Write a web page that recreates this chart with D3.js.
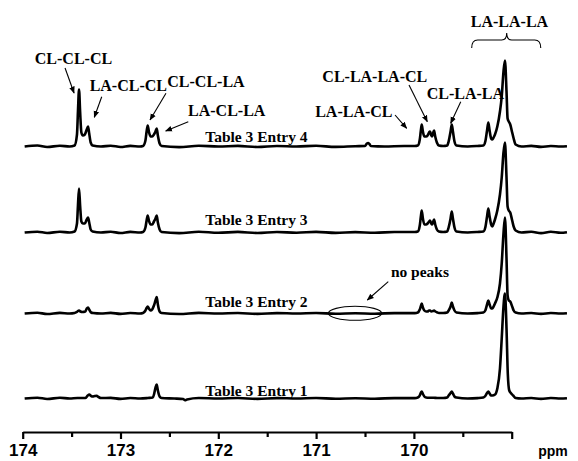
<!DOCTYPE html>
<html>
<head>
<meta charset="utf-8">
<script src="https://cdn.jsdelivr.net/npm/d3@7"></script>
<style>
  html, body { margin: 0; padding: 0; background: #fff; }
  svg { display: block; }
</style>
</head>
<body>
<script>
// ---------- DATA (ppm, intensity) ----------
const entryNames = ["Table 3 Entry 1", "Table 3 Entry 2", "Table 3 Entry 3", "Table 3 Entry 4"];
const entryOffsets = [0, 85, 166, 252];

const entry4 = [
  [173.98,0],[173.85,1],[173.75,-0.5],[173.62,0.8],[173.52,0],
  [173.47,1],[173.445,12],[173.435,35],[173.424,57],[173.413,35],[173.40,14],[173.385,11],[173.365,12],[173.345,17],[173.332,20],[173.32,13],[173.305,4],[173.285,1],
  [173.2,0],[173.1,0.8],[173.0,-0.5],[172.9,0.6],[172.8,0],
  [172.77,0.5],[172.745,6],[172.733,15],[172.722,21],[172.71,15],[172.692,10],[172.676,10],[172.658,12],[172.642,15],[172.630,18],[172.618,11],[172.60,3],[172.58,0.5],
  [172.4,-0.6],[172.2,0.7],[172.0,0],[171.8,0.6],[171.6,-0.5],[171.4,0.5],[171.2,0],[171.0,0.7],[170.8,-0.4],[170.6,0.3],
  [170.50,0.5],[170.48,3],[170.469,3.5],[170.455,2.5],[170.44,0.5],
  [170.3,0],[170.1,0.5],[169.99,0.5],
  [169.96,1],[169.94,7],[169.93,15],[169.92,22],[169.908,15],[169.893,10],[169.875,10],[169.86,11],[169.845,14],[169.835,15],[169.822,11],[169.814,10],[169.805,13],[169.794,16],[169.782,10],[169.765,4],[169.745,1],
  [169.70,0.5],[169.66,1],
  [169.645,5],[169.625,15],[169.613,22],[169.601,15],[169.585,5],[169.565,1],
  [169.45,0],[169.35,0.5],[169.29,1],
  [169.27,5],[169.252,16],[169.239,24],[169.226,16],[169.21,8],[169.198,7],[169.185,9],[169.171,12],[169.147,20],[169.120,35],[169.102,50],[169.084,75],[169.069,86],[169.053,55],[169.042,28],[169.030,25],[169.015,22],[168.995,14],[168.98,8],[168.96,2],
  [168.90,0],[168.8,0.6],[168.7,-0.4],[168.6,0.5],[168.5,0],[168.435,0.3]
];

const entry3 = [
  [173.98,0],[173.85,0.8],[173.75,-0.5],[173.62,0.7],[173.52,0],
  [173.47,1],[173.445,9],[173.435,27],[173.424,44],[173.413,27],[173.40,11],[173.385,9],[173.365,9],[173.345,13],[173.332,15],[173.32,10],[173.305,3],[173.285,1],
  [173.2,0],[173.1,0.7],[173.0,-0.5],[172.9,0.6],[172.8,0],
  [172.77,0.5],[172.745,5],[172.733,12],[172.722,17],[172.71,12],[172.692,8],[172.676,8],[172.658,11],[172.642,14],[172.630,17],[172.618,10],[172.60,3],[172.58,0.5],
  [172.4,-0.6],[172.2,0.7],[172.0,-0.3],[171.8,0.6],[171.6,-0.5],[171.4,0.5],[171.2,-0.2],[171.0,0.6],[170.8,-0.4],[170.6,0.4],[170.4,-0.3],[170.2,0.5],[169.99,0.5],
  [169.96,1],[169.94,7],[169.93,15],[169.92,22],[169.908,14],[169.893,8],[169.875,8],[169.86,9],[169.845,11],[169.835,12],[169.822,9],[169.814,8],[169.805,10],[169.794,13],[169.782,8],[169.765,3],[169.745,1],
  [169.70,0.5],[169.66,1],
  [169.645,5],[169.625,14],[169.613,21],[169.601,14],[169.585,5],[169.565,1],
  [169.45,0],[169.35,0.5],[169.29,1],
  [169.27,5],[169.252,16],[169.239,24],[169.226,16],[169.21,8],[169.198,6],[169.185,9],[169.171,13],[169.147,22],[169.120,38],[169.102,55],[169.084,80],[169.069,90],[169.053,55],[169.042,26],[169.030,22],[169.015,20],[168.995,12],[168.98,6],[168.96,2],
  [168.90,0],[168.8,0.8],[168.7,-0.6],[168.6,0.7],[168.5,-0.3],[168.435,0.3]
];

const entry2 = [
  [173.98,0],[173.85,0.7],[173.75,-0.5],[173.62,0.6],[173.52,0],
  [173.47,0.5],[173.44,2],[173.424,3],[173.41,2],[173.39,1.5],[173.36,2],[173.345,5],[173.332,6],[173.32,4],[173.30,1],[173.28,0.5],
  [173.2,0],[173.1,0.6],[173.0,-0.4],[172.9,0.5],[172.8,0],
  [172.77,0.5],[172.745,3],[172.733,5.5],[172.722,7],[172.71,5],[172.692,3],[172.676,4],[172.658,8],[172.642,13],[172.630,16.5],[172.618,9],[172.60,2],[172.58,0.5],
  [172.4,-0.5],[172.2,0.6],[172.0,0],[171.8,0.5],[171.6,-0.4],[171.4,0.4],[171.2,0],[171.0,0.5],[170.8,-0.3],[170.6,0.3],[170.4,-0.2],[170.2,0.4],[169.99,0.4],
  [169.96,1],[169.94,4],[169.93,7],[169.92,10],[169.908,6],[169.893,3],[169.875,2],[169.86,2],[169.845,3],[169.835,3],[169.822,2],[169.805,2.5],[169.794,3],[169.78,2],[169.76,1],[169.745,0.5],
  [169.70,0.5],[169.66,1],
  [169.645,3],[169.625,7],[169.613,11],[169.601,7],[169.585,3],[169.565,1],
  [169.45,0],[169.35,0.4],[169.29,1],
  [169.27,3],[169.252,9],[169.239,13],[169.226,9],[169.21,5],[169.198,5],[169.185,7],[169.171,10],[169.147,16],[169.120,30],[169.102,50],[169.084,80],[169.069,96],[169.053,55],[169.042,18],[169.030,13],[169.015,12],[168.995,7],[168.98,3],[168.96,1],
  [168.90,0],[168.8,0.5],[168.7,-0.4],[168.6,0.5],[168.5,0],[168.435,0.3]
];

const entry1 = [
  [173.98,0],[173.85,0.8],[173.75,-0.5],[173.62,0.7],[173.52,0],[173.44,0.5],
  [173.36,0.5],[173.335,3],[173.319,4],[173.30,2.5],[173.285,2],[173.262,2.5],[173.243,2.6],[173.225,1.5],[173.20,0.5],
  [173.1,0.6],[173.0,-0.4],[172.9,0.5],[172.8,0],[172.72,0.5],
  [172.67,1],[172.655,5],[172.642,11],[172.630,14],[172.618,8],[172.60,2],[172.58,0.5],
  [172.45,0],[172.36,-0.5],[172.34,-1.8],[172.32,-1],[172.2,0.5],[172.0,0],[171.8,0.5],[171.6,-0.4],[171.4,0.4],[171.2,0],[171.0,0.5],[170.8,-0.3],[170.6,0.3],[170.4,-0.2],[170.2,0.4],[169.99,0.4],
  [169.96,1],[169.94,3],[169.93,5.5],[169.92,7],[169.908,4.5],[169.893,2],[169.875,1],[169.85,0.8],[169.8,0.8],[169.76,0.5],
  [169.70,0.5],[169.66,1],
  [169.645,3],[169.625,5.5],[169.613,7],[169.601,5],[169.585,2],[169.565,1],
  [169.45,0],[169.35,0.4],[169.29,1],
  [169.27,2.5],[169.252,5.5],[169.239,7],[169.226,5],[169.21,3],[169.198,3],[169.17,4],[169.147,10],[169.120,30],[169.102,60],[169.084,92],[169.069,105],[169.053,70],[169.04,25],[169.025,8],[169.005,5],[168.985,3],[168.96,0.5],
  [168.90,0],[168.8,0.5],[168.7,-0.4],[168.6,0.5],[168.5,0],[168.435,0.3]
];

const entrySeries = [entry1, entry2, entry3, entry4];

const xTickValues = [174, 173.5, 173, 172.5, 172, 171.5, 171, 170.5, 170, 169.5, 169];
const xTickLabels = ["174", "", "173", "", "172", "", "171", "", "170", "", ""];
const axisUnit = "ppm";

// annotations on entry 4 (ppm, intensity in stacked units)
const peakLabels = ["CL-CL-CL", "LA-CL-CL", "CL-CL-LA", "LA-CL-LA", "CL-LA-LA-CL", "LA-LA-CL", "CL-LA-LA"];
const peakLabelPos = [[173.481,334.5],[172.920,307.8],[172.126,311.2],[171.914,282.5],[170.400,316.8],[170.614,281.8],[169.474,299.2]];
const peakArrowFrom = [[173.567,330.5],[173.192,301.8],[172.535,305.2],[172.307,276.8],[170.050,313.5],[170.193,283.5],[169.521,296.8]];
const peakArrowTo = [[173.475,305.5],[173.268,281.2],[172.698,278.5],[172.538,267.5],[169.863,276.8],[170.074,270.2],[169.624,275.2]];

const braceLabel = "LA-LA-LA";
const braceLabelPos = [169.023, 371.8];
const braceSpan = [169.409, 168.703, 358.5, 350.5, 169.051, 365.5]; // left, right, y, yEnd, tipX, tipY

const noPeaksLabel = "no peaks";
const noPeaksLabelPos = [169.938, 121.2];
const noPeaksArrow = [[170.262,116.8],[170.476,98.5]];
const noPeaksEllipse = [170.602, 85.2, 0.273, 7];

const entryLabelX = 171.61;
const entryLabelY = [2.8, 91.2, 173.5, 256.5];

// ---------- DRAW ----------
const W = 578, H = 461;
const svg = d3.select("body").append("svg").attr("width", W).attr("height", H)
  .style("background", "#fff");

const x = d3.scaleLinear().domain([174, 169]).range([22.7, 511.7]);
const y = d3.scaleLinear().domain([0, 352]).range([398.5, 46.5]);

svg.append("defs").append("marker")
  .attr("id", "arr").attr("viewBox", "0 0 10 10").attr("refX", 9).attr("refY", 5)
  .attr("markerWidth", 7).attr("markerHeight", 7).attr("markerUnits", "userSpaceOnUse")
  .attr("orient", "auto")
  .append("path").attr("d", "M0,1 L10,5 L0,9 Z").attr("fill", "#000");

const line = d3.line().x(d => x(d[0])).curve(d3.curveMonotoneX);

const serif = "'Liberation Serif', 'Times New Roman', serif";
const sans = "'Liberation Sans', Arial, sans-serif";

// entry labels (drawn first so trace overlays)
svg.selectAll("text.entry").data(entryNames).enter().append("text")
  .attr("class", "entry")
  .attr("x", x(entryLabelX)).attr("y", (d, i) => y(entryLabelY[i]))
  .attr("text-anchor", "middle")
  .style("font-family", serif).style("font-weight", "bold").style("font-size", "15.5px")
  .text(d => d);

entrySeries.forEach((s, i) => {
  svg.append("path")
    .attr("d", line.y(d => y(d[1] + entryOffsets[i]))(s))
    .attr("fill", "none").attr("stroke", "#000").attr("stroke-width", 2.6)
    .attr("stroke-linejoin", "round");
});

// axis
const axis = d3.axisBottom(x).tickValues(xTickValues)
  .tickFormat((d, i) => xTickLabels[i]).tickSizeOuter(0).tickSize(0);
const gAx = svg.append("g").attr("transform", "translate(0,432)").call(axis);
gAx.select(".domain").attr("stroke", "#000").attr("stroke-width", 2.2);
gAx.selectAll(".tick line").attr("y2", (d, i) => xTickLabels[i] !== "" || d === 169 ? 7 : 5)
  .attr("stroke", "#000").attr("stroke-width", 2.2);
gAx.selectAll(".tick text").attr("y", 24).attr("dy", 0)
  .style("font-family", sans).style("font-weight", "bold").style("font-size", "17px").attr("fill", "#000");

svg.append("text").attr("x", 553).attr("y", 456).attr("text-anchor", "middle")
  .style("font-family", sans).style("font-weight", "bold").style("font-size", "14px")
  .text(axisUnit);

// peak annotations
svg.selectAll("text.pk").data(peakLabels).enter().append("text")
  .attr("class", "pk")
  .attr("x", (d, i) => x(peakLabelPos[i][0])).attr("y", (d, i) => y(peakLabelPos[i][1]))
  .attr("text-anchor", "middle")
  .style("font-family", serif).style("font-weight", "bold").style("font-size", "16px")
  .text(d => d);

svg.selectAll("line.pk").data(peakLabels).enter().append("line")
  .attr("class", "pk")
  .attr("x1", (d, i) => x(peakArrowFrom[i][0])).attr("y1", (d, i) => y(peakArrowFrom[i][1]))
  .attr("x2", (d, i) => x(peakArrowTo[i][0])).attr("y2", (d, i) => y(peakArrowTo[i][1]))
  .attr("stroke", "#000").attr("stroke-width", 1.1).attr("marker-end", "url(#arr)");

// brace
const bl = x(braceSpan[0]), br = x(braceSpan[1]), by = y(braceSpan[2]), bye = y(braceSpan[3]);
const tx = x(braceSpan[4]), ty = y(braceSpan[5]);
const bp = d3.path();
bp.moveTo(bl, bye);
bp.quadraticCurveTo(bl, by, bl + 6, by);
bp.lineTo(tx - 5, by);
bp.quadraticCurveTo(tx, by, tx, ty);
bp.quadraticCurveTo(tx, by, tx + 5, by);
bp.lineTo(br - 6, by);
bp.quadraticCurveTo(br, by, br, bye);
svg.append("path").attr("d", bp.toString()).attr("fill", "none").attr("stroke", "#000").attr("stroke-width", 1.1);
svg.append("text").attr("x", x(braceLabelPos[0])).attr("y", y(braceLabelPos[1]))
  .attr("text-anchor", "middle")
  .style("font-family", serif).style("font-weight", "bold").style("font-size", "16px")
  .text(braceLabel);

// no peaks
svg.append("text").attr("x", x(noPeaksLabelPos[0])).attr("y", y(noPeaksLabelPos[1]))
  .attr("text-anchor", "middle")
  .style("font-family", serif).style("font-weight", "bold").style("font-size", "15.5px")
  .text(noPeaksLabel);
svg.append("line")
  .attr("x1", x(noPeaksArrow[0][0])).attr("y1", y(noPeaksArrow[0][1]))
  .attr("x2", x(noPeaksArrow[1][0])).attr("y2", y(noPeaksArrow[1][1]))
  .attr("stroke", "#000").attr("stroke-width", 1.1).attr("marker-end", "url(#arr)");
svg.append("ellipse")
  .attr("cx", x(noPeaksEllipse[0])).attr("cy", y(noPeaksEllipse[1]))
  .attr("rx", x(noPeaksEllipse[0] - noPeaksEllipse[2]) - x(noPeaksEllipse[0]))
  .attr("ry", y(0) - y(noPeaksEllipse[3]))
  .attr("fill", "none").attr("stroke", "#000").attr("stroke-width", 1.1);
</script>
</body>
</html>
